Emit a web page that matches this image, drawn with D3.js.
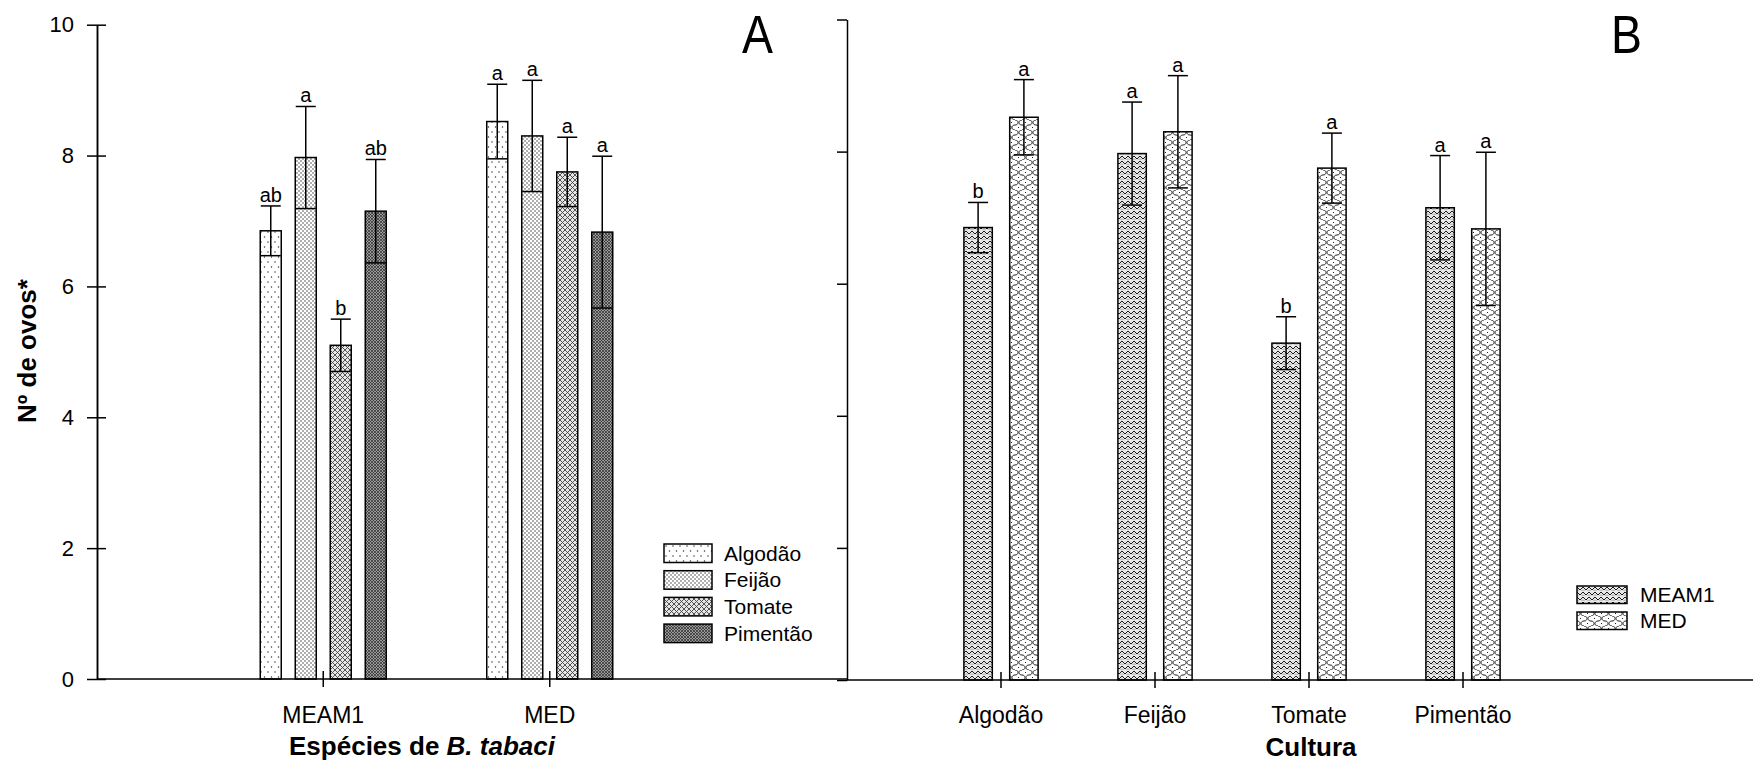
<!DOCTYPE html>
<html>
<head>
<meta charset="utf-8">
<script src="https://cdn.jsdelivr.net/npm/d3@7"></script>
<style>
  body { margin: 0; background: #fff; }
  svg text { font-family: "Liberation Sans", Arial, sans-serif; fill: #000; }
</style>
</head>
<body>
<script>
// data
var species = ["MEAM1", "MED"];
var crops = ["Algodão", "Feijão", "Tomate", "Pimentão"];
var yTicks = [0, 2, 4, 6, 8, 10];

var meanMEAM1 = [6.85, 7.97, 5.10, 7.15];
var seMEAM1 = [0.38, 0.78, 0.40, 0.79];
var meanMED = [8.52, 8.30, 7.75, 6.83];
var seMED = [0.57, 0.85, 0.53, 1.16];

// letters, panel A (crops compared within species)
var letA_MEAM1 = ["ab", "a", "b", "ab"];
var letA_MED = ["a", "a", "a", "a"];
// letters, panel B (species compared within crop)
var letB_MEAM1 = ["b", "a", "b", "a"];
var letB_MED = ["a", "a", "a", "a"];

var width = 1753, height = 762;

var svg = d3.select('body').append('svg')
  .attr('width', width)
  .attr('height', height);

svg.append('rect').attr('width', width).attr('height', height).attr('fill', '#fff');

// ---- fill patterns ----
var defs = svg.append('defs');
function pattern(id, w, h, bg) {
  var p = defs.append('pattern').attr('id', id)
    .attr('patternUnits', 'userSpaceOnUse')
    .attr('width', w).attr('height', h);
  p.append('rect').attr('width', w).attr('height', h).attr('fill', bg);
  return p;
}
var p1 = pattern('pAlg', 7, 10, '#fff');
p1.append('circle').attr('cx', 2).attr('cy', 2).attr('r', 0.75).attr('fill', '#333');
p1.append('circle').attr('cx', 5.5).attr('cy', 7).attr('r', 0.75).attr('fill', '#333');

var p2 = pattern('pFei', 4, 4, '#fff');
p2.append('circle').attr('cx', 1).attr('cy', 1).attr('r', 0.7).attr('fill', '#222');
p2.append('circle').attr('cx', 3).attr('cy', 3).attr('r', 0.7).attr('fill', '#222');

var p3 = pattern('pTom', 5, 5, '#e6e6e6');
p3.append('path').attr('d', 'M0,0L5,5M5,0L0,5').attr('stroke', '#444').attr('stroke-width', 0.9);

var p4 = pattern('pPim', 3, 3, '#9a9a9a');
p4.append('path').attr('d', 'M0,0L3,3M3,0L0,3').attr('stroke', '#2a2a2a').attr('stroke-width', 0.7);

var p5 = pattern('pMEAM', 6, 5, '#e8e8e8');
p5.append('path').attr('d', 'M0,1L3,4L6,1').attr('fill', 'none').attr('stroke', '#1a1a1a').attr('stroke-width', 1);
p5.append('path').attr('d', 'M0,3.5L1.5,5M4.5,5L6,3.5').attr('fill', 'none').attr('stroke', '#666').attr('stroke-width', 0.6);

var p6 = pattern('pMED', 14, 10, '#fff');
p6.append('path').attr('d', 'M7,0C11,0 11,5 7,5C3,5 3,10 7,10').attr('fill', 'none').attr('stroke', '#222').attr('stroke-width', 1);
p6.append('path').attr('d', 'M0,0C-4,0 -4,5 0,5C4,5 4,10 0,10M14,0C10,0 10,5 14,5C18,5 18,10 14,10')
  .attr('fill', 'none').attr('stroke', '#222').attr('stroke-width', 1);
p6.append('path').attr('d', 'M3,2.5L4,2.5M10,7.5L11,7.5').attr('stroke', '#222').attr('stroke-width', 1);

var fillA = ['url(#pAlg)', 'url(#pFei)', 'url(#pTom)', 'url(#pPim)'];
var fillB = ['url(#pMEAM)', 'url(#pMED)'];

function styleAxis(g, fs) {
  g.selectAll('path, line').attr('stroke', '#000').attr('stroke-width', 1.5);
  g.selectAll('text').style('font-size', fs + 'px');
}

function errorBar(g, cx, y, m, s, lab) {
  var top = y(m + s), bot = y(m - s);
  g.append('line').attr('x1', cx).attr('x2', cx).attr('y1', top).attr('y2', bot)
    .attr('stroke', '#000').attr('stroke-width', 1.5);
  [top, bot].forEach(function (yy) {
    g.append('line').attr('x1', cx - 10).attr('x2', cx + 10).attr('y1', yy).attr('y2', yy)
      .attr('stroke', '#000').attr('stroke-width', 1.5);
  });
  g.append('text').attr('x', cx).attr('y', top - 4)
    .attr('text-anchor', 'middle').style('font-size', '20px').text(lab);
}

// ================= Panel A =================
var yA = d3.scaleLinear().domain([0, 10]).range([679, 24.7]);
var xA = d3.scaleBand().domain(species).range([210, 663]);
var xAin = d3.scaleBand().domain(crops).range([-70, 70]).paddingInner(0.4).paddingOuter(0.2);

var gA = svg.append('g');
var meansBySp = [meanMEAM1, meanMED], seBySp = [seMEAM1, seMED], letA = [letA_MEAM1, letA_MED];

species.forEach(function (sp, si) {
  var grp = gA.append('g');
  grp.selectAll('rect').data(crops).enter().append('rect')
    .attr('x', function (c) { return xA(sp) + xA.bandwidth() / 2 + xAin(c); })
    .attr('y', function (c, i) { return yA(meansBySp[si][i]); })
    .attr('width', xAin.bandwidth())
    .attr('height', function (c, i) { return yA(0) - yA(meansBySp[si][i]); })
    .attr('fill', function (c, i) { return fillA[i]; })
    .attr('stroke', '#000').attr('stroke-width', 1.5);
  crops.forEach(function (c, i) {
    var cx = xA(sp) + xA.bandwidth() / 2 + xAin(c) + xAin.bandwidth() / 2;
    errorBar(grp, cx, yA, meansBySp[si][i], seBySp[si][i], letA[si][i]);
  });
});

var yAxL = gA.append('g').attr('transform', 'translate(97,0)')
  .call(d3.axisLeft(yA).tickValues(yTicks).tickSizeInner(10).tickSizeOuter(0).tickPadding(13));
styleAxis(yAxL, 22);
var yAxR = gA.append('g').attr('transform', 'translate(97,0)')
  .call(d3.axisRight(yA).tickValues(yTicks).tickFormat('').tickSizeInner(9).tickSizeOuter(0));
styleAxis(yAxR, 22);

gA.append('line').attr('x1', 97).attr('x2', 847).attr('y1', yA(0)).attr('y2', yA(0))
  .attr('stroke', '#000').attr('stroke-width', 1.5);
var xAxA = gA.append('g').attr('transform', 'translate(0,' + yA(0) + ')')
  .call(d3.axisBottom(xA).tickSizeInner(8).tickSizeOuter(0).tickPadding(20));
xAxA.select('.domain').remove();
styleAxis(xAxA, 23);
var xAxA2 = gA.append('g').attr('transform', 'translate(0,' + yA(0) + ')')
  .call(d3.axisTop(xA).tickSizeInner(8).tickSizeOuter(0).tickFormat(''));
xAxA2.select('.domain').remove();
styleAxis(xAxA2, 23);

var tA = gA.append('text').attr('x', 422).attr('y', 755).attr('text-anchor', 'middle')
  .style('font-size', '26px').style('font-weight', 'bold');
tA.append('tspan').text('Espécies de ');
tA.append('tspan').style('font-style', 'italic').text('B. tabaci');

gA.append('text').attr('transform', 'translate(36,351) rotate(-90)')
  .attr('text-anchor', 'middle').style('font-size', '26px').style('font-weight', 'bold')
  .text('Nº de ovos*');

gA.append('text').attr('transform', 'translate(757.5,53) scale(0.86,1)')
  .attr('text-anchor', 'middle').style('font-size', '54px').text('A');

// legend A
var legA = gA.append('g').attr('transform', 'translate(664,544)');
crops.forEach(function (c, i) {
  legA.append('rect').attr('x', 0).attr('y', i * 26.7).attr('width', 48).attr('height', 18.5)
    .attr('fill', fillA[i]).attr('stroke', '#000').attr('stroke-width', 1.5);
  legA.append('text').attr('x', 60).attr('y', i * 26.7 + 16.5).style('font-size', '21px').text(c);
});

// ================= Panel B =================
var yB = d3.scaleLinear().domain([0, 10]).range([680, 19.5]);
var xB = d3.scaleBand().domain(crops).range([924, 1540]);
var xBin = d3.scaleBand().domain(species).range([-60, 60]).paddingInner(0.38).paddingOuter(0.5);

var gB = svg.append('g');
var letB = [letB_MEAM1, letB_MED];

species.forEach(function (sp, si) {
  var grp = gB.append('g');
  grp.selectAll('rect').data(crops).enter().append('rect')
    .attr('x', function (c) { return xB(c) + xB.bandwidth() / 2 + xBin(sp); })
    .attr('y', function (c, i) { return yB(meansBySp[si][i]); })
    .attr('width', xBin.bandwidth())
    .attr('height', function (c, i) { return yB(0) - yB(meansBySp[si][i]); })
    .attr('fill', fillB[si])
    .attr('stroke', '#000').attr('stroke-width', 1.5);
  crops.forEach(function (c, i) {
    var cx = xB(c) + xB.bandwidth() / 2 + xBin(sp) + xBin.bandwidth() / 2;
    errorBar(grp, cx, yB, meansBySp[si][i], seBySp[si][i], letB[si][i]);
  });
});

var yAxB = gB.append('g').attr('transform', 'translate(847,0)')
  .call(d3.axisLeft(yB).tickValues(yTicks).tickFormat('').tickSizeInner(10).tickSizeOuter(0));
styleAxis(yAxB, 22);

gB.append('line').attr('x1', 847).attr('x2', width).attr('y1', yB(0)).attr('y2', yB(0))
  .attr('stroke', '#000').attr('stroke-width', 1.5);
var xAxB = gB.append('g').attr('transform', 'translate(0,' + yB(0) + ')')
  .call(d3.axisBottom(xB).tickSizeInner(8).tickSizeOuter(0).tickPadding(19));
xAxB.select('.domain').remove();
styleAxis(xAxB, 23);
var xAxB2 = gB.append('g').attr('transform', 'translate(0,' + yB(0) + ')')
  .call(d3.axisTop(xB).tickSizeInner(8).tickSizeOuter(0).tickFormat(''));
xAxB2.select('.domain').remove();
styleAxis(xAxB2, 23);

gB.append('text').attr('x', 1311).attr('y', 756).attr('text-anchor', 'middle')
  .style('font-size', '26px').style('font-weight', 'bold').text('Cultura');

gB.append('text').attr('transform', 'translate(1626.5,53) scale(0.86,1)')
  .attr('text-anchor', 'middle').style('font-size', '54px').text('B');

// legend B
var legB = gB.append('g').attr('transform', 'translate(1577,586)');
species.forEach(function (sp, i) {
  legB.append('rect').attr('x', 0).attr('y', i * 26).attr('width', 50).attr('height', 17.5)
    .attr('fill', fillB[i]).attr('stroke', '#000').attr('stroke-width', 1.5);
  legB.append('text').attr('x', 63).attr('y', i * 26 + 16).style('font-size', '21px').text(sp);
});
</script>
</body>
</html>
